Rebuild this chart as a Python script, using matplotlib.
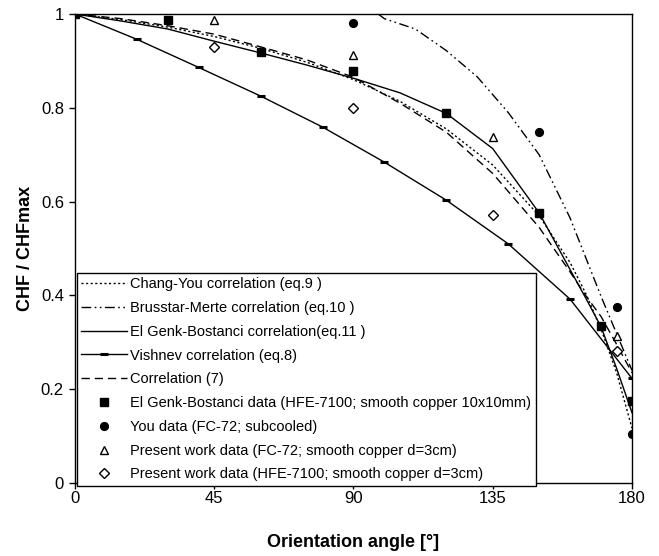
import matplotlib
matplotlib.use("Agg")
import matplotlib.pyplot as plt

plt.rcParams['font.family'] = ['Liberation Sans', 'DejaVu Sans']

# correlations
ang_corr = [0, 15, 30, 45, 60, 75, 90, 105, 120, 135, 150, 160, 165, 170, 175, 180]
chang_you = [1.0, 0.988, 0.972, 0.952, 0.927, 0.897, 0.860, 0.814, 0.755, 0.678, 0.570, 0.470, 0.405, 0.328, 0.236, 0.117]
corr7 = [1.0, 0.990, 0.975, 0.957, 0.930, 0.902, 0.865, 0.810, 0.748, 0.660, 0.545, 0.450, 0.400, 0.355, 0.296, 0.235]
el_genk = [1.0, 0.985, 0.968, 0.942, 0.917, 0.891, 0.863, 0.832, 0.788, 0.713, 0.576, 0.455, 0.395, 0.333, 0.245, 0.150]

ang_brus = [98, 100, 110, 120, 130, 140, 150, 160, 170, 180]
brusstar = [1.0, 0.99, 0.968, 0.922, 0.866, 0.790, 0.700, 0.565, 0.398, 0.240]

ang_vish = [0, 20, 40, 60, 80, 100, 120, 140, 160, 180]
vishnev = [1.0, 0.946, 0.886, 0.825, 0.759, 0.684, 0.603, 0.510, 0.392, 0.223]

# experimental data
ang_eg = [0, 30, 60, 90, 120, 150, 170, 180]
chf_eg = [1.0, 0.987, 0.919, 0.879, 0.788, 0.576, 0.334, 0.174]
ang_you = [0, 90, 150, 175, 180]
chf_you = [1.0, 0.98, 0.749, 0.375, 0.104]
ang_fc72 = [45, 90, 135, 175]
chf_fc72 = [0.987, 0.912, 0.737, 0.314]
ang_hfe = [45, 90, 135, 175]
chf_hfe = [0.93, 0.80, 0.571, 0.282]

xticks = [0, 45, 90, 135, 180]
yticks = [0, 0.2, 0.4, 0.6, 0.8, 1.0]
ytick_labels = ['0', '0.2', '0.4', '0.6', '0.8', '1']

fig = plt.figure(figsize=(6.59, 5.56), dpi=100)
ax = fig.add_axes([0.1138, 0.1313, 0.8452, 0.8435])

lw = 1.0
ax.plot(ang_corr, chang_you, color='black', lw=lw, ls=(0, (1.5, 1.8)),
        label='Chang-You correlation (eq.9 )')
ax.plot(ang_brus, brusstar, color='black', lw=lw, ls=(0, (7, 2.5, 1.2, 2.5, 1.2, 2.5)),
        label='Brusstar-Merte correlation (eq.10 )')
ax.plot(ang_corr, el_genk, color='black', lw=lw, ls='-',
        label='El Genk-Bostanci correlation(eq.11 )')
ax.plot(ang_vish, vishnev, color='black', lw=lw, ls='-', marker='_', ms=6, mew=2.2,
        label='Vishnev correlation (eq.8)')
ax.plot(ang_corr, corr7, color='black', lw=lw, ls=(0, (6, 3.5)),
        label='Correlation (7)')

ax.plot(ang_eg, chf_eg, ls='none', marker='s', ms=5.4, color='black',
        label='El Genk-Bostanci data (HFE-7100; smooth copper 10x10mm)')
ax.plot(ang_you, chf_you, ls='none', marker='o', ms=5.6, color='black',
        label='You data (FC-72; subcooled)')
ax.plot(ang_fc72, chf_fc72, ls='none', marker='^', ms=5.5, mfc='white', mec='black', mew=1.0,
        label='Present work data (FC-72; smooth copper d=3cm)')
ax.plot(ang_hfe, chf_hfe, ls='none', marker='D', ms=5.5, mfc='white', mec='black', mew=1.0,
        label='Present work data (HFE-7100; smooth copper d=3cm)')

ax.set_xlim(0, 180)
ax.set_ylim(0, 1)
ax.set_xticks(xticks)
ax.set_yticks(yticks)
ax.set_yticklabels(ytick_labels)
ax.tick_params(direction='out', length=4, width=1, labelsize=12)
ax.tick_params(axis='x', pad=2)
ax.tick_params(axis='y', pad=4)
for s in ax.spines.values():
    s.set_linewidth(1.0)

ax.set_xlabel('Orientation angle [°]', fontsize=13, fontweight='bold', labelpad=20)
ax.set_ylabel('CHF / CHFmax', fontsize=13, fontweight='bold', labelpad=5)

leg = ax.legend(loc='lower left', bbox_to_anchor=(0.0036, -0.006), borderaxespad=0,
                fontsize=10.5, frameon=True, fancybox=False, framealpha=1,
                edgecolor='black', handlelength=3.1, handletextpad=0.25,
                labelspacing=0.67, borderpad=0.3, numpoints=1)
leg.get_frame().set_linewidth(1.0)

fig.savefig('out.png', dpi=100)
